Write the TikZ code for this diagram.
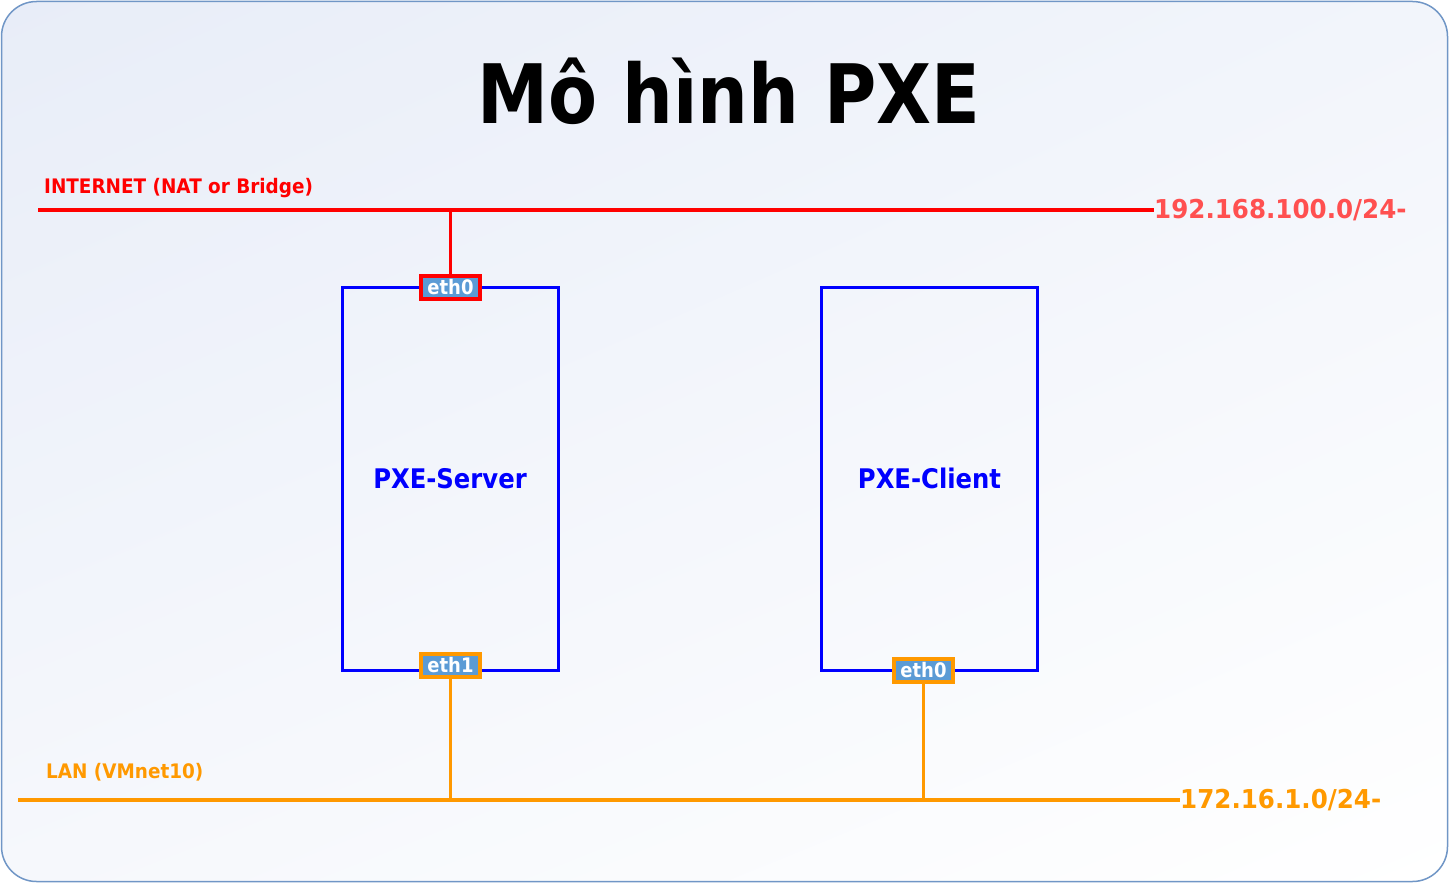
\documentclass[tikz,border=0pt]{standalone}
\usepackage{fontspec}
\usetikzlibrary{shadings}
\setmainfont{DejaVu Sans}
\newfontfamily\tfont{DejaVu Sans}[FakeStretch=0.87]
\newfontfamily\nfont{DejaVu Sans}[FakeStretch=0.90]
\newfontfamily\lfont{DejaVu Sans}[FakeStretch=0.92]
\newfontfamily\afont{DejaVu Sans}[FakeStretch=0.945]
\definecolor{netred}{HTML}{FF0000}
\definecolor{lblred}{HTML}{FF5050}
\definecolor{netorange}{HTML}{FF9900}
\definecolor{ethfill}{HTML}{5B9BD5}
\definecolor{frame}{HTML}{7096C6}
\definecolor{bgtl}{HTML}{E8EDF8}
\definecolor{bgtr}{HTML}{F2F5FB}
\definecolor{bgbl}{HTML}{F6F8FC}
\tikzset{
  host/.style={draw=blue, line width=3pt, minimum width=216pt, minimum height=383pt, inner sep=0pt,
    text=blue, font=\nfont\bfseries\fontsize{27}{31}\selectfont},
  ethbox/.style={fill=ethfill, line width=4pt, minimum width=59pt, minimum height=23pt, inner sep=0pt,
    text=white, font=\nfont\bfseries\fontsize{20}{24}\selectfont},
  netlbl/.style={font=\lfont\bfseries\fontsize{20}{24}\selectfont, anchor=base west, inner sep=0pt},
  addrlbl/.style={font=\afont\bfseries\fontsize{26}{30}\selectfont, anchor=west, inner sep=0pt},
  wire/.style={line width=4pt},
  drop/.style={line width=3.5pt},
}
\begin{document}
\begin{tikzpicture}[x=1pt,y=-1pt]
\useasboundingbox (0,0) rectangle (1449,883);
\shade[upper left=bgtl, upper right=bgtr, lower left=bgbl, lower right=white]
  [rounded corners=35pt] (1.5,1.5) rectangle (1447.5,881.5);
\draw[frame, line width=1.5pt, rounded corners=35pt] (1.5,1.5) rectangle (1447.5,881.5);

\node[anchor=base, inner sep=0pt, font=\tfont\bfseries\fontsize{82}{90}\selectfont] (title) at (729,123) {Mô hình PXE};

% Internet network
\node[netlbl, text=netred] (inetlbl) at (44,193) {INTERNET (NAT or Bridge)};
\coordinate (inetL) at (38,210);
\node[addrlbl, text=lblred] (inetaddr) at (1154,210) {192.168.100.0/24-};
\draw[wire, netred] (inetL) -- (inetaddr.west);

% LAN network
\node[netlbl, text=netorange] (lanlbl) at (46,778) {LAN (VMnet10)};
\coordinate (lanL) at (18,800);
\node[addrlbl, text=netorange] (lanaddr) at (1180,800) {172.16.1.0/24-};
\draw[wire, netorange] (lanL) -- (lanaddr.west);

% Hosts
\node[host] (server) at (450,478.5) {PXE-Server};
\node[host] (client) at (929.5,478.5) {PXE-Client};

% Interfaces
\node[ethbox, draw=netred] (seth0) at (450.5,287.5) {eth0};
\node[ethbox, draw=netorange] (seth1) at (450.5,665) {eth1};
\node[ethbox, draw=netorange] (ceth0) at (923.5,670) {eth0};

\coordinate (inetTap) at (450.5,210);
\coordinate (lanTap1) at (450.5,800);
\coordinate (lanTap2) at (923.5,800);
\draw[drop, netred] (inetTap) -- (seth0.north);
\draw[drop, netorange] (seth1.south) -- (lanTap1);
\draw[drop, netorange] (ceth0.south) -- (lanTap2);
\end{tikzpicture}
\end{document}
